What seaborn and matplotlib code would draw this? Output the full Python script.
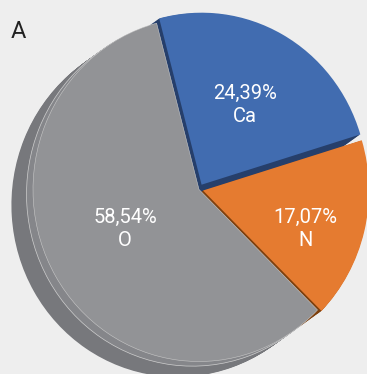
import matplotlib
matplotlib.use("Agg")
import matplotlib.pyplot as plt
import seaborn as sns
import numpy as np

# ---- data ----
elements = ["Ca", "N", "O"]
percents = [24.39, 17.07, 58.54]
panel_label = "A"

# ---- style ----
sns.set_theme(style="white")
plt.rcParams['font.family'] = ['Roboto', 'DejaVu Sans']
bg = "#eeeeee"
top_colors = ["#416cb0", "#e57b30", "#929396"]
side_colors = ["#263f6b", "#7d400e", "#77787c"]
explode = [0.032, 0.025, 0.0]
label_pos = [(0.277, 0.49), (0.639, -0.23), (-0.446, -0.23)]

fig = plt.figure(figsize=(3.67, 3.74), dpi=100, facecolor=bg)
ax = fig.add_axes([0, 0, 1, 1])
ax.set_facecolor(bg)

start = 104.8
order = [2, 0, 1]

def draw(center, colors, zorder, lw=0, ec="none"):
    wedges, _ = ax.pie(percents, colors=colors, startangle=start, counterclock=False,
                       explode=explode, center=center, radius=1.0,
                       wedgeprops=dict(linewidth=lw, edgecolor=ec))
    for idx, w in enumerate(wedges):
        w.set_zorder(zorder + order.index(idx) * 0.01)
    return wedges

# extrusion (side) layers
dx, dy = -0.13, -0.09
n = 26
for k in range(n, 0, -1):
    t = k / n
    draw((dx * t, dy * t), side_colors, 1)

# lighter band near the top face on the side of O
band = draw((dx * 0.3, dy * 0.3), ["#263f6b", "#7d400e", "#85868a"], 2,
            lw=0.5, ec="#cfcfcf")
for idx, w in enumerate(band):
    if idx != 2:
        w.set_visible(False)

# top faces
tops = draw((0, 0), top_colors, 3)
tops[2].set_edgecolor("#c8c8c8")
tops[2].set_linewidth(0.4)

for (x, y), el, p in zip(label_pos, elements, percents):
    ax.text(x, y, f"{p:.2f}".replace(".", ",") + "%\n" + el, color="white",
            fontsize=14.5, ha="center", va="center", zorder=10, linespacing=1.3)

ax.set_aspect("auto")
ax.set_xlim(-199 / 166, (367 - 199) / 166)
ax.set_ylim((189.5 - 374) / 172, 189.5 / 172)
ax.axis("off")

fig.text(18 / 367, 1 - 32 / 374, panel_label, fontsize=17, color="#222222",
         ha="center", va="center")

fig.savefig("out.png", dpi=100, facecolor=bg)
